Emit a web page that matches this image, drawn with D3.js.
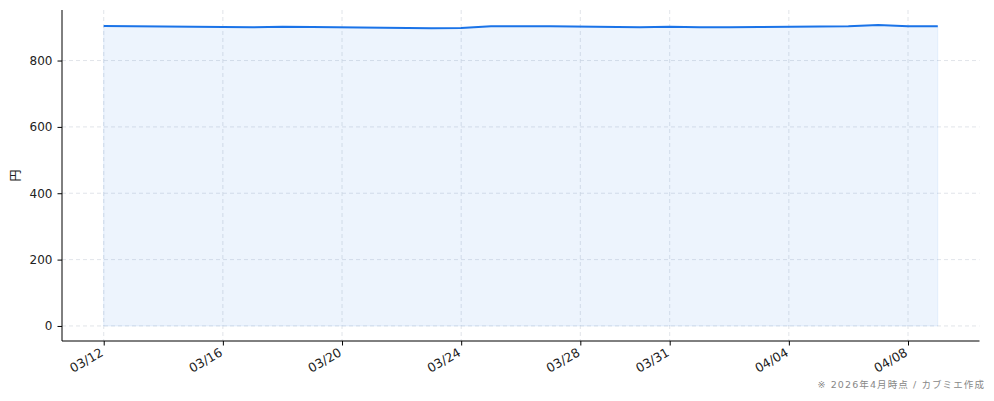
<!DOCTYPE html>
<html><head><meta charset="utf-8">
<script src="https://cdn.jsdelivr.net/npm/d3@7/dist/d3.min.js"></script>
<style>
body{margin:0;background:#fff;}
svg text{font-family:"DejaVu Sans","Noto Sans CJK JP",sans-serif;}
</style></head>
<body><svg id="c" width="994" height="401"></svg>
<script>
const dates = ["2026-03-12","2026-03-13","2026-03-16","2026-03-17","2026-03-18","2026-03-19","2026-03-23","2026-03-24","2026-03-25","2026-03-26","2026-03-27","2026-03-30","2026-03-31","2026-04-01","2026-04-02","2026-04-03","2026-04-06","2026-04-07","2026-04-08","2026-04-09"];
const prices = [904,903,901,900,902,901,897,898,903,903,903,900,902,900,900,901,903,907,903,903];
const yTicks = [0,200,400,600,800];
const xTickDates = ["2026-03-12","2026-03-16","2026-03-20","2026-03-24","2026-03-28","2026-03-31","2026-04-04","2026-04-08"];
const yLabel = "円";
const note = "※ 2026年4月時点 / カブミエ作成";

const parse = d3.timeParse("%Y-%m-%d");
const data = dates.map((d,i)=>({d:parse(d), v:prices[i]}));
const svg = d3.select("#c");
const L=62, R=979.5, T=10, B=341;
const t0 = data[0].d, t1 = data[data.length-1].d;
const span = t1 - t0;
const x = d3.scaleTime().domain([new Date(+t0 - span*0.05), new Date(+t1 + span*0.05)]).range([L,R]);
const ymax = d3.max(prices);
const y = d3.scaleLinear().domain([-ymax*0.05, ymax*1.05]).range([B,T]);

const g = svg.append("g");
g.selectAll(".gy").data(yTicks).join("line")
  .attr("x1",L).attr("x2",R).attr("y1",d=>y(d)).attr("y2",d=>y(d))
  .attr("stroke","#d9dde3").attr("stroke-width",0.8).attr("stroke-dasharray","4,3");
g.selectAll(".gx").data(xTickDates.map(parse)).join("line")
  .attr("x1",d=>x(d)).attr("x2",d=>x(d)).attr("y1",T).attr("y2",B)
  .attr("stroke","#d9dde3").attr("stroke-width",0.8).attr("stroke-dasharray","4,3");

const area = d3.area().x(d=>x(d.d)).y0(y(0)).y1(d=>y(d.v));
g.append("path").datum(data).attr("d",area).attr("fill","#1a73e8").attr("fill-opacity",0.08)
  .attr("stroke","#1a73e8").attr("stroke-opacity",0.08).attr("stroke-width",1);
const line = d3.line().x(d=>x(d.d)).y(d=>y(d.v));
g.append("path").datum(data).attr("d",line).attr("fill","none").attr("stroke","#1a73e8").attr("stroke-width",2);

const ya = svg.append("g").attr("transform",`translate(${L},0)`)
  .call(d3.axisLeft(y).tickValues(yTicks).tickSize(4.5).tickPadding(5));
ya.select(".domain").attr("d",`M0,${T}V${B}`).attr("stroke","#000").attr("stroke-width",1);
ya.selectAll("text").attr("font-size",12).attr("fill","#222");
const xa = svg.append("g").attr("transform",`translate(0,${B})`)
  .call(d3.axisBottom(x).tickValues(xTickDates.map(parse)).tickFormat(d3.timeFormat("%m/%d")).tickSize(4.5).tickPadding(3));
xa.select(".domain").attr("d",`M${L},0H${R}`).attr("stroke","#000").attr("stroke-width",1);
xa.selectAll("text").attr("font-size",12.5).attr("fill","#222")
  .attr("text-anchor","end").attr("y",0).attr("dy",0).attr("dx",0)
  .attr("transform","translate(0,14) rotate(-30)");

svg.append("text").text(yLabel).attr("font-size",12).attr("fill","#222")
  .attr("transform",`translate(20,${(T+B)/2}) rotate(-90)`).attr("text-anchor","middle");
svg.append("text").text(note).attr("x",985).attr("y",388).attr("text-anchor","end")
  .attr("font-size",9.5).attr("letter-spacing","1.1").attr("fill","#888");
</script></body></html>
